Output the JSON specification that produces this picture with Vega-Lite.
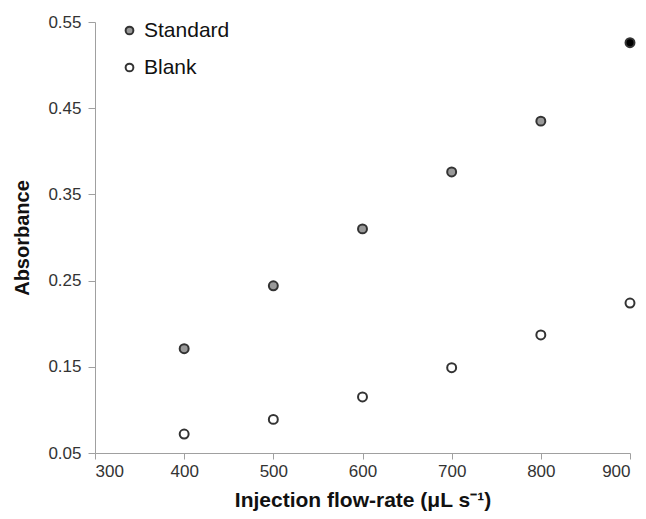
{
  "$schema": "https://vega.github.io/schema/vega-lite/v6.json",
  "autosize": "none",
  "width": 535,
  "height": 431,
  "padding": {"left": 95, "top": 22, "right": 16, "bottom": 66},
  "background": "white",
  "config": {"view": {"stroke": null}, "font": "Liberation Sans"},
  "data": {"values": [
    {"flow": 400, "absorbance": 0.171, "series": "Standard"},
    {"flow": 500, "absorbance": 0.244, "series": "Standard"},
    {"flow": 600, "absorbance": 0.310, "series": "Standard"},
    {"flow": 700, "absorbance": 0.376, "series": "Standard"},
    {"flow": 800, "absorbance": 0.435, "series": "Standard"},
    {"flow": 900, "absorbance": 0.526, "series": "Standard"},
    {"flow": 400, "absorbance": 0.072, "series": "Blank"},
    {"flow": 500, "absorbance": 0.089, "series": "Blank"},
    {"flow": 600, "absorbance": 0.115, "series": "Blank"},
    {"flow": 700, "absorbance": 0.149, "series": "Blank"},
    {"flow": 800, "absorbance": 0.187, "series": "Blank"},
    {"flow": 900, "absorbance": 0.224, "series": "Blank"}
  ]},
  "mark": {"type": "point", "filled": true, "size": 80, "stroke": "#333333", "strokeWidth": 2, "opacity": 1},
  "encoding": {
    "x": {
      "field": "flow", "type": "quantitative",
      "scale": {"domain": [300, 900], "nice": false, "zero": false},
      "axis": {
        "values": [300, 400, 500, 600, 700, 800, 900],
        "title": "Injection flow-rate (μL s⁻¹)",
        "titleFontSize": 21, "titleFontWeight": "bold", "titleColor": "#111", "titlePadding": 10,
        "labelFontSize": 17, "labelColor": "#333", "labelPadding": 4,
        "grid": false, "domainColor": "#a0a0a0", "tickColor": "#a0a0a0", "tickSize": 6
      }
    },
    "y": {
      "field": "absorbance", "type": "quantitative",
      "scale": {"domain": [0.05, 0.55], "nice": false, "zero": false},
      "axis": {
        "values": [0.05, 0.15, 0.25, 0.35, 0.45, 0.55],
        "format": ".2f",
        "title": "Absorbance",
        "titleFontSize": 20, "titleFontWeight": "bold", "titleColor": "#111", "titlePadding": 15,
        "labelFontSize": 17, "labelColor": "#333", "labelPadding": 7,
        "grid": false, "domainColor": "#a0a0a0", "tickColor": "#a0a0a0", "tickSize": 7
      }
    },
    "fill": {
      "condition": {"test": "datum.series === 'Standard' && datum.flow === 900", "value": "#000000"},
      "field": "series", "type": "nominal",
      "scale": {"domain": ["Standard", "Blank"], "range": ["#999999", "#ffffff"]},
      "legend": {
        "title": null, "orient": "none", "legendX": 24, "legendY": -2,
        "symbolType": "circle", "symbolSize": 60, "symbolStrokeColor": "#333333", "symbolStrokeWidth": 2,
        "labelFontSize": 21, "labelColor": "#111", "rowPadding": 15, "labelOffset": 4
      }
    }
  }
}
